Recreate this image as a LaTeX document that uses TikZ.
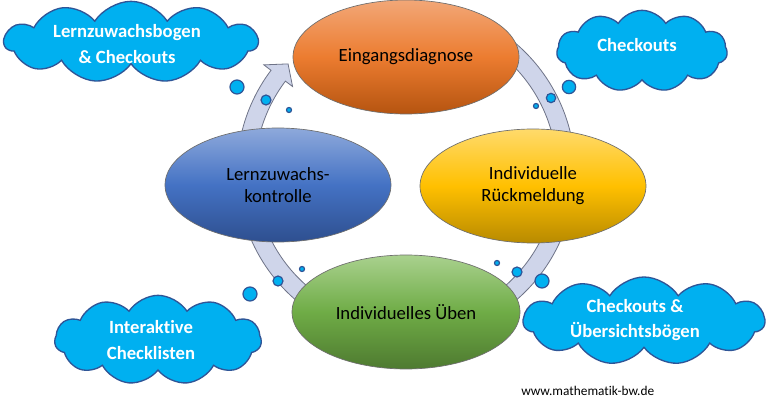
\documentclass[tikz,border=0pt]{standalone}
\usepackage{fontspec}
\setmainfont{Carlito}[Ligatures=NoCommon]
\usetikzlibrary{shapes.symbols,shapes.geometric,calc}
\definecolor{cloudfill}{RGB}{0,176,240}
\definecolor{cloudline}{RGB}{47,85,151}
\definecolor{ringfill}{RGB}{207,213,234}
\definecolor{ringline}{RGB}{110,115,135}
\definecolor{ellline}{RGB}{110,110,110}
\definecolor{orT}{RGB}{242,167,119}
\definecolor{orM}{RGB}{236,124,48}
\definecolor{orB}{RGB}{181,84,16}
\definecolor{blT}{RGB}{142,169,219}
\definecolor{blM}{RGB}{68,114,196}
\definecolor{blB}{RGB}{46,79,143}
\definecolor{yeT}{RGB}{255,218,107}
\definecolor{yeM}{RGB}{255,192,0}
\definecolor{yeB}{RGB}{184,138,0}
\definecolor{grT}{RGB}{169,209,142}
\definecolor{grM}{RGB}{111,172,70}
\definecolor{grB}{RGB}{78,122,48}
\begin{document}
\begin{tikzpicture}[x=0.75pt,y=0.75pt,
  bubble/.style={circle, draw=cloudline, fill=cloudfill, line width=0.9pt, inner sep=0pt},
  thought/.style={cloud, cloud puffs=11, cloud puff arc=115, cloud ignores aspect,
    draw=cloudline, fill=cloudfill, line width=1pt, inner sep=0pt},
  cloudtext/.style={text=white, font=\fontsize{14}{19}\selectfont\bfseries, align=center, inner sep=0pt},
  stage/.style={ellipse, draw=ellline, line width=0.5pt, minimum width=169.5pt,
    minimum height=85.5pt, font=\fontsize{14}{16.5}\selectfont, align=center, inner sep=0pt},
  ring/.style={fill=ringfill, draw=ringline, line width=0.6pt}]
\fill[white] (0,0) rectangle (768,400);
\path[use as bounding box] (0,0) rectangle (768,400);
% circular arrow
\coordinate (c) at (406,228);
\draw[ring] ($(c)+(75:169)$) arc[start angle=75,end angle=-217,radius=169]
  -- ($(c)+(-217:178)$) -- ($(c)+(-222.5:160)$) -- ($(c)+(-217:142)$)
  -- ($(c)+(-217:151)$) arc[start angle=-217,end angle=75,radius=151] -- cycle;
% stages
\node[stage, top color=orT, bottom color=orB, middle color=orM] (eingang) at (406,343) {Eingangsdiagnose};
\node[stage, top color=blT, bottom color=blB, middle color=blM] (lern) at (278,215) {Lernzuwachs-\\kontrolle};
\node[stage, top color=yeT, bottom color=yeB, middle color=yeM] (rueck) at (533,214) {Individuelle\\Rückmeldung};
\node[stage, top color=grT, bottom color=grB, middle color=grM, minimum width=171pt] (ueben) at (406,88) {Individuelles Üben};
% bubbles
\node[bubble, minimum size=10.5pt] (b1a) at (237,313) {};
\node[bubble, minimum size=7.5pt] (b1b) at (266,300) {};
\node[bubble, minimum size=3.8pt] (b1c) at (289,290) {};
\node[bubble, minimum size=10pt] (b2a) at (569,313) {};
\node[bubble, minimum size=7pt] (b2b) at (551,302) {};
\node[bubble, minimum size=3.8pt] (b2c) at (536,294) {};
\node[bubble, minimum size=3.8pt] (b3c) at (302,131) {};
\node[bubble, minimum size=7.5pt] (b3b) at (278,119) {};
\node[bubble, minimum size=10.5pt] (b3a) at (250,106) {};
\node[bubble, minimum size=3.8pt] (b4c) at (497,137) {};
\node[bubble, minimum size=7.5pt] (b4b) at (517,128) {};
\node[bubble, minimum size=10.5pt] (b4a) at (542,119) {};
% clouds
\node[thought, minimum width=190pt, minimum height=61pt] (c1) at (131,358) {};
\node[thought, minimum width=128pt, minimum height=61pt] (c2) at (642,349) {};
\node[thought, minimum width=155pt, minimum height=67pt] (c3) at (158,60) {};
\node[thought, minimum width=181pt, minimum height=66pt] (c4) at (644,79) {};
\node[cloudtext] (t1) at (127,356) {Lernzuwachsbogen\\\& Checkouts};
\node[cloudtext] (t2) at (637,355) {Checkouts};
\node[cloudtext] (t3) at (151,60) {Interaktive\\Checklisten};
\node[cloudtext] (t4) at (635,80) {Checkouts \&\\Übersichtsbögen};
% credit
\node[font=\fontsize{10}{12}\selectfont, anchor=west, inner sep=0pt] (web) at (521,9) {www.mathematik-bw.de};
\end{tikzpicture}
\end{document}
